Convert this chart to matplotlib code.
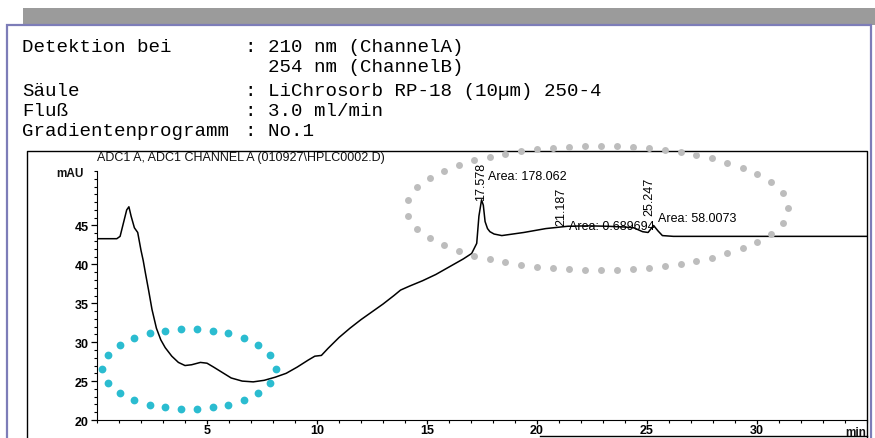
import numpy as np
import matplotlib
matplotlib.use("Agg")
import matplotlib.pyplot as plt
from matplotlib.patches import Rectangle
from matplotlib.ticker import MultipleLocator

# chromatogram trace (time in min, signal in mAU)
zeit = [0.0, 0.9, 1.05, 1.2, 1.35, 1.45, 1.55, 1.7, 1.85, 2.0, 2.1, 2.2, 2.35,
        2.5, 2.7, 2.9, 3.1, 3.4, 3.7, 4.0, 4.3, 4.7, 5.0, 5.3, 5.7, 6.1, 6.6,
        7.1, 7.6, 8.1, 8.6, 9.1, 9.6, 9.9, 10.2, 10.5, 11.0, 11.5, 12.0, 12.5,
        13.0, 13.5, 13.8, 14.2, 14.8, 15.4, 15.9, 16.65, 17.03, 17.26, 17.36,
        17.48, 17.56, 17.64, 17.75, 17.86, 18.05, 18.4, 18.9, 19.4, 20.4,
        21.4, 22.3, 23.2, 24.0, 24.4, 24.8, 25.05, 25.3, 25.5, 25.7, 26.2,
        27.0, 35.0]
signal = [43.3, 43.3, 43.6, 45.3, 47.0, 47.4, 46.2, 44.7, 44.1, 41.8, 40.5,
          38.9, 36.6, 34.2, 31.8, 30.3, 29.3, 28.2, 27.4, 27.0, 27.1, 27.4,
          27.3, 26.8, 26.1, 25.4, 25.0, 24.9, 25.1, 25.5, 26.0, 26.8, 27.7,
          28.2, 28.3, 29.2, 30.6, 31.8, 32.9, 33.9, 34.9, 36.0, 36.7, 37.2,
          37.9, 38.7, 39.5, 40.7, 41.4, 42.7, 46.2, 48.3, 47.6, 45.5, 44.6,
          44.2, 43.9, 43.7, 43.9, 44.1, 44.6, 44.9, 44.95, 44.9, 44.8, 44.7,
          44.2, 44.1, 45.0, 44.3, 43.7, 43.6, 43.6, 43.6]

# peak labels
peak_zeit = ["17.578", "21.187", "25.247"]
peak_flaeche = ["Area: 178.062", "Area: 0.689694", "Area: 58.0073"]
label_pos = [(17.44, 48.3), (21.12, 45.1), (25.09, 46.4)]
area_pos = [(17.77, 51.4), (21.45, 44.95), (25.5, 46.0)]

y_ticks = [20, 25, 30, 35, 40, 45]
x_ticks = [5, 10, 15, 20, 25, 30]

kopf_labels = ["Detektion bei", "", "Säule", "Fluß", "Gradientenprogramm"]
kopf_werte = [": 210 nm (ChannelA)", "  254 nm (ChannelB)",
              ": LiChrosorb RP-18 (10µm) 250-4", ": 3.0 ml/min", ": No.1"]
kopf_y = [52, 72, 96, 116, 136]

W, H = 875, 439
fig = plt.figure(figsize=(W / 100, H / 100), dpi=100)
fig.patch.set_facecolor("white")

# background layer in pixel coordinates
bg = fig.add_axes([0, 0, 1, 1], zorder=0)
bg.set_xlim(0, W)
bg.set_ylim(H, 0)
bg.axis("off")
bg.add_patch(Rectangle((23, 9), W - 23, 17, facecolor="#9b9b9b", edgecolor="none"))
bg.add_patch(Rectangle((7, 26), 864, 430, facecolor="white", edgecolor="#7d7db8",
                       linewidth=1.6))
# outer chart frame
bg.plot([27, 27, 867, 867], [445, 152, 152, 445], color="black", lw=1.0)
bg.plot([540, 867], [437, 437], color="black", lw=1.0)

for lab, wert, y in zip(kopf_labels, kopf_werte, kopf_y):
    bg.text(22, y, lab, family="Liberation Mono", fontsize=13.8, color="black",
            va="baseline", ha="left")
    bg.text(245, y, wert, family="Liberation Mono", fontsize=13.8, color="black",
            va="baseline", ha="left")

bg.text(97, 158, "ADC1 A, ADC1 CHANNEL A (010927\\HPLC0002.D)", family="Liberation Sans",
        fontsize=9, va="center", ha="left", color="#111111")
bg.text(84, 174, "mAU", family="Liberation Sans", fontsize=8.5, fontweight="bold",
        va="center", ha="right", color="#111111")
bg.text(866, 433, "min", family="Liberation Sans", fontsize=8.5, fontweight="bold",
        va="center", ha="right", color="#111111")

# main chromatogram axes
ax = fig.add_axes([97 / W, 1 - 421 / H, 770 / W, 249 / H], zorder=2)
ax.patch.set_alpha(0)
ax.plot(zeit, signal, color="black", lw=1.1)
ax.set_xlim(0, 35)
ax.set_ylim(20, 52)
ax.spines["top"].set_visible(False)
ax.spines["right"].set_visible(False)
ax.set_xticks(x_ticks)
ax.set_yticks(y_ticks)
ax.xaxis.set_minor_locator(MultipleLocator(1))
ax.yaxis.set_minor_locator(MultipleLocator(1))
ax.tick_params(which="major", direction="out", length=4.5, width=0.9, pad=1.5,
               labelsize=9)
ax.tick_params(axis="x", which="major", length=3, pad=0.2)
ax.tick_params(which="minor", direction="out", length=2.2, width=0.8)
for t in ax.get_xticklabels() + ax.get_yticklabels():
    t.set_family("Liberation Sans")
    t.set_fontweight("bold")

for txt, (x, y) in zip(peak_zeit, label_pos):
    ax.text(x, y, txt, rotation=90, ha="center", va="bottom", fontsize=9,
            family="Liberation Sans", clip_on=False)
for txt, (x, y) in zip(peak_flaeche, area_pos):
    ax.text(x, y, txt, ha="left", va="center", fontsize=9,
            family="Liberation Sans", clip_on=False)

# dotted highlight ellipses on top
fg = fig.add_axes([0, 0, 1, 1], zorder=3)
fg.set_xlim(0, W)
fg.set_ylim(H, 0)
fg.axis("off")
fg.patch.set_alpha(0)


def ellipse_dots(cx, cy, a, b, n):
    th = np.linspace(0, 2 * np.pi, 3000)
    x = cx + a * np.cos(th)
    y = cy + b * np.sin(th)
    s = np.concatenate([[0], np.cumsum(np.hypot(np.diff(x), np.diff(y)))])
    ziel = np.linspace(0, s[-1], n, endpoint=False)
    return np.interp(ziel, s, x), np.interp(ziel, s, y)


gx, gy = ellipse_dots(597, 209, 191, 62, 53)
fg.plot(gx, gy, "o", color="#bdbdbd", markersize=5.0, markeredgewidth=0)
cx, cy = ellipse_dots(189, 370, 87, 40, 26)
fg.plot(cx, cy, "o", color="#2bbcd0", markersize=5.6, markeredgewidth=0)

fig.savefig("out.png", dpi=100)
